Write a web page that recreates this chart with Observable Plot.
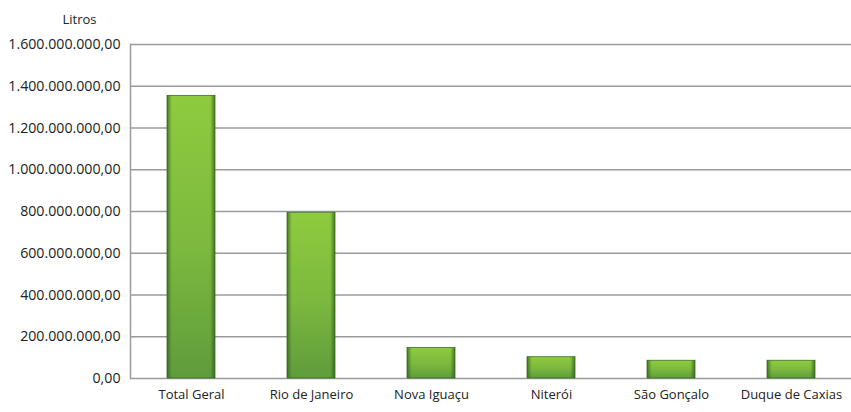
<!DOCTYPE html>
<html>
<head>
<meta charset="utf-8">
<script src="https://cdn.jsdelivr.net/npm/d3@7"></script>
<script src="https://cdn.jsdelivr.net/npm/@observablehq/plot@0.6"></script>
<style>
  html, body { margin: 0; padding: 0; background: #fff; }
  #chart svg { display: block; }
</style>
</head>
<body>
<div id="chart"></div>
<script>
const categories = ["Total Geral", "Rio de Janeiro", "Nova Iguaçu", "Niterói", "São Gonçalo", "Duque de Caxias"];
const values = [1354000000, 794000000, 146000000, 102000000, 85000000, 85000000];
const yTicks = [0, 200000000, 400000000, 600000000, 800000000, 1000000000, 1200000000, 1400000000, 1600000000];
const yLabel = "Litros";

const data = categories.map((c, i) => ({ cat: c, value: values[i] }));
const br = d3.formatLocale({ decimal: ",", thousands: ".", grouping: [3], currency: ["R$", ""] });
const fmt = br.format(",.2f");

const defs = () => {
  const g = d3.create("svg:defs");
  const v = g.append("linearGradient").attr("id", "gv").attr("x1", 0).attr("y1", 0).attr("x2", 0).attr("y2", 1);
  v.append("stop").attr("offset", "0%").attr("stop-color", "#8fcb3e");
  v.append("stop").attr("offset", "55%").attr("stop-color", "#7bb83e");
  v.append("stop").attr("offset", "100%").attr("stop-color", "#5f9c3c");
  const h = g.append("linearGradient").attr("id", "gh").attr("x1", 0).attr("y1", 0).attr("x2", 1).attr("y2", 0);
  h.append("stop").attr("offset", "0%").attr("stop-color", "#2f5e1c").attr("stop-opacity", 0.75);
  h.append("stop").attr("offset", "10%").attr("stop-color", "#2f5e1c").attr("stop-opacity", 0.0);
  h.append("stop").attr("offset", "90%").attr("stop-color", "#2f5e1c").attr("stop-opacity", 0.0);
  h.append("stop").attr("offset", "100%").attr("stop-color", "#2f5e1c").attr("stop-opacity", 0.75);
  return g.node();
};

const FONT = "'Open Sans', sans-serif";

const plot = Plot.plot({
  width: 851,
  height: 412,
  marginLeft: 130,
  marginRight: 0,
  marginTop: 44,
  marginBottom: 34,
  style: { fontFamily: FONT, fontSize: "13px", color: "#222", background: "#fff" },
  x: { domain: categories, paddingInner: 0.6, paddingOuter: 0.3, label: null },
  y: { domain: [0, 1600000000], label: null },
  marks: [
    defs,
    Plot.ruleY(yTicks, { stroke: "#9a9a9a", strokeWidth: 1.5 }),
    Plot.frame({ anchor: "left", stroke: "#9a9a9a", strokeWidth: 1.5 }),
    Plot.barY(data, { x: "cat", y: "value", fill: "url(#gv)", stroke: "#3d6f27", strokeWidth: 0.8 }),
    Plot.barY(data, { x: "cat", y: "value", fill: "url(#gh)" }),
    Plot.axisY({ ticks: yTicks, tickFormat: fmt, tickSize: 0, tickPadding: 10, label: null, fontSize: 14.2 }),
    Plot.axisX({ tickSize: 0, tickPadding: 11, label: null, fontSize: 13 }),
    Plot.text([yLabel], { frameAnchor: "top-left", dx: -68, dy: -30, text: d => d, fontSize: 13 })
  ]
});
document.getElementById("chart").appendChild(plot);
</script>
</body>
</html>
